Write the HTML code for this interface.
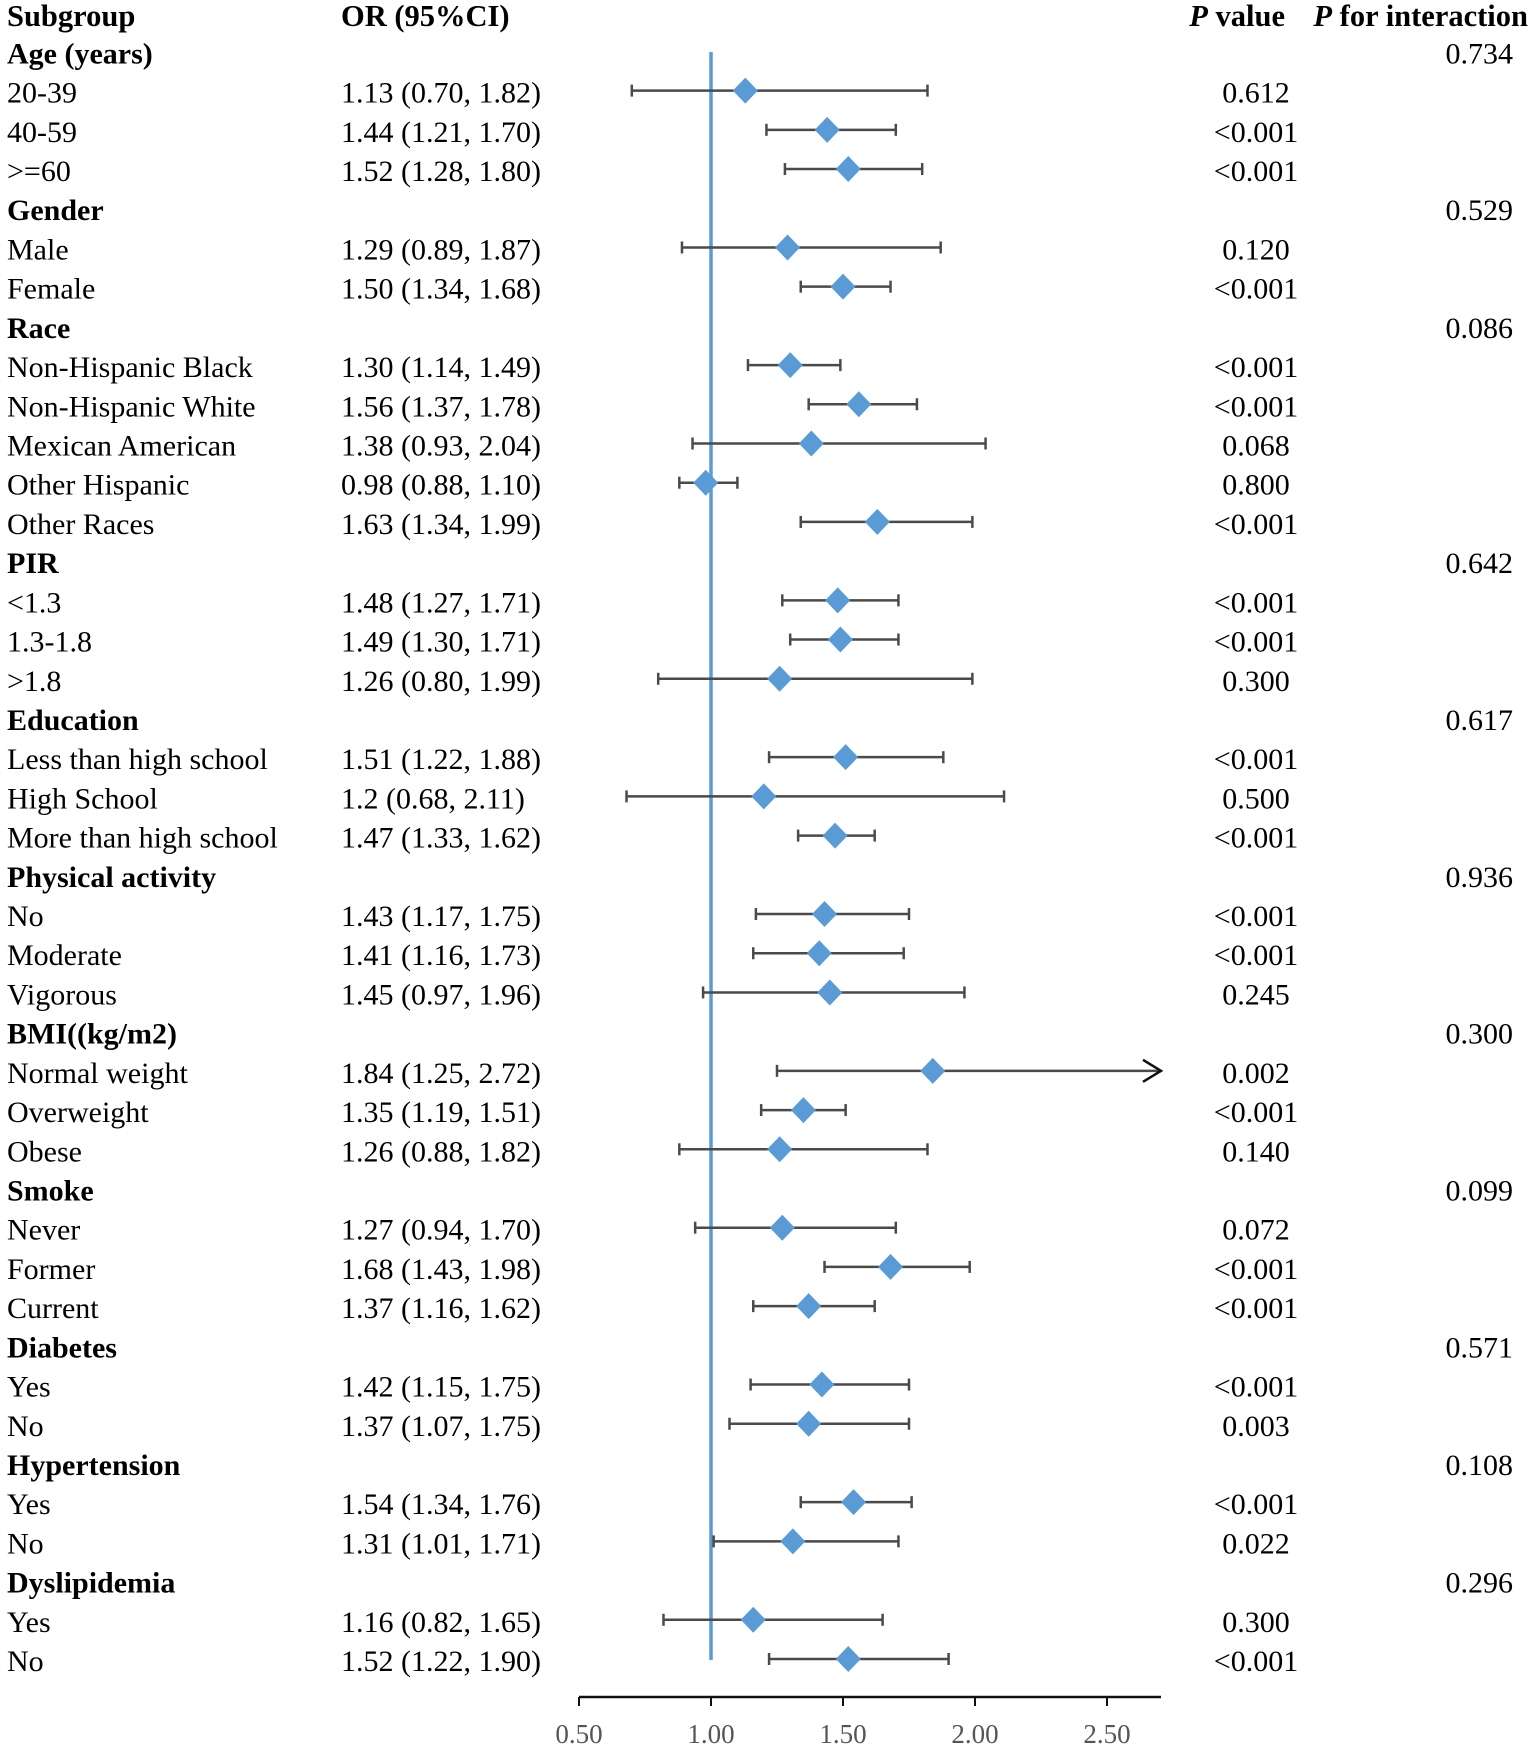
<!DOCTYPE html>
<html><head><meta charset="utf-8"><style>
html,body{margin:0;padding:0;background:#fff;}
svg{display:block;font-family:"Liberation Serif",serif;}
</style></head><body>
<svg id="chart" width="1535" height="1746" viewBox="0 0 1535 1746" xmlns="http://www.w3.org/2000/svg">
<g font-weight="bold" font-size="30.5">
<text x="7" y="26">Subgroup</text>
<text x="341" y="26">OR (95%CI)</text>
<text x="1285" y="26" text-anchor="end"><tspan font-style="italic">P</tspan> value</text>
<text x="1528" y="26" text-anchor="end"><tspan font-style="italic">P</tspan>  for interaction</text>
</g>
<g id="rows"></g>
<g id="marks"></g>
<g id="axis"></g>
</svg>
<script>
const labels = ["Age (years)","20-39","40-59",">=60","Gender","Male","Female","Race","Non-Hispanic Black","Non-Hispanic White","Mexican American","Other Hispanic","Other Races","PIR","<1.3","1.3-1.8",">1.8","Education","Less than high school","High School","More than high school","Physical activity","No","Moderate","Vigorous","BMI((kg/m2)","Normal weight","Overweight","Obese","Smoke","Never","Former","Current","Diabetes","Yes","No","Hypertension","Yes","No","Dyslipidemia","Yes","No"];
const isHeader = [1,0,0,0,1,0,0,1,0,0,0,0,0,1,0,0,0,1,0,0,0,1,0,0,0,1,0,0,0,1,0,0,0,1,0,0,1,0,0,1,0,0];
const orVals = [null,1.13,1.44,1.52,null,1.29,1.50,null,1.30,1.56,1.38,0.98,1.63,null,1.48,1.49,1.26,null,1.51,1.2,1.47,null,1.43,1.41,1.45,null,1.84,1.35,1.26,null,1.27,1.68,1.37,null,1.42,1.37,null,1.54,1.31,null,1.16,1.52];
const lowVals = [null,0.70,1.21,1.28,null,0.89,1.34,null,1.14,1.37,0.93,0.88,1.34,null,1.27,1.30,0.80,null,1.22,0.68,1.33,null,1.17,1.16,0.97,null,1.25,1.19,0.88,null,0.94,1.43,1.16,null,1.15,1.07,null,1.34,1.01,null,0.82,1.22];
const highVals = [null,1.82,1.70,1.80,null,1.87,1.68,null,1.49,1.78,2.04,1.10,1.99,null,1.71,1.71,1.99,null,1.88,2.11,1.62,null,1.75,1.73,1.96,null,2.72,1.51,1.82,null,1.70,1.98,1.62,null,1.75,1.75,null,1.76,1.71,null,1.65,1.90];
const orText = ["","1.13 (0.70, 1.82)","1.44 (1.21, 1.70)","1.52 (1.28, 1.80)","","1.29 (0.89, 1.87)","1.50 (1.34, 1.68)","","1.30 (1.14, 1.49)","1.56 (1.37, 1.78)","1.38 (0.93, 2.04)","0.98 (0.88, 1.10)","1.63 (1.34, 1.99)","","1.48 (1.27, 1.71)","1.49 (1.30, 1.71)","1.26 (0.80, 1.99)","","1.51 (1.22, 1.88)","1.2 (0.68, 2.11)","1.47 (1.33, 1.62)","","1.43 (1.17, 1.75)","1.41 (1.16, 1.73)","1.45 (0.97, 1.96)","","1.84 (1.25, 2.72)","1.35 (1.19, 1.51)","1.26 (0.88, 1.82)","","1.27 (0.94, 1.70)","1.68 (1.43, 1.98)","1.37 (1.16, 1.62)","","1.42 (1.15, 1.75)","1.37 (1.07, 1.75)","","1.54 (1.34, 1.76)","1.31 (1.01, 1.71)","","1.16 (0.82, 1.65)","1.52 (1.22, 1.90)"];
const pVals = ["","0.612","<0.001","<0.001","","0.120","<0.001","","<0.001","<0.001","0.068","0.800","<0.001","","<0.001","<0.001","0.300","","<0.001","0.500","<0.001","","<0.001","<0.001","0.245","","0.002","<0.001","0.140","","0.072","<0.001","<0.001","","<0.001","0.003","","<0.001","0.022","","0.300","<0.001"];
const pInter = ["0.734","","","","0.529","","","0.086","","","","","","0.642","","","","0.617","","","","0.936","","","","0.300","","","","0.099","","","","0.571","","","0.108","","","0.296","",""];
const ticks = [0.5,1.0,1.5,2.0,2.5];
const tickLabels = ["0.50","1.00","1.50","2.00","2.50"];
const refValue = 1.0;

const NS="http://www.w3.org/2000/svg";
const X0=579, UNIT=264, XMAX=1161;
function xs(v){return X0+(v-0.5)*UNIT;}
function ys(i){return 53.4+i*39.21;}
function mk(tag,attrs,parent){const e=document.createElementNS(NS,tag);for(const k in attrs)e.setAttribute(k,attrs[k]);parent.appendChild(e);return e;}
const rows=document.getElementById('rows'), marks=document.getElementById('marks'), axis=document.getElementById('axis');
const FS=30;

labels.forEach((lab,i)=>{
  const y=ys(i)+10;
  const t=mk('text',{x:7,y:y,'font-size':FS,'font-weight':isHeader[i]?'bold':'normal'},rows);
  
  
  t.textContent=lab;
  if(orText[i]){const o=mk('text',{x:341,y:y,'font-size':FS},rows);
    
    
    o.textContent=orText[i];}
  if(pVals[i]){const p=mk('text',{x:1256,y:y,'font-size':FS,'text-anchor':'middle'},rows);
    
    
    p.textContent=pVals[i];}
  if(pInter[i]){const p=mk('text',{x:1513,y:y,'font-size':FS,'text-anchor':'end'},rows);
    
    
    p.textContent=pInter[i];}
});

const ref=mk('line',{x1:xs(refValue),x2:xs(refValue),y1:52,y2:1660,stroke:'#5b9bd5','stroke-width':3.5},marks);



orVals.forEach((v,i)=>{
  if(v===null)return;
  const y=ys(i)-2;
  const lo=xs(lowVals[i]); const hiRaw=xs(highVals[i]); const clipped=hiRaw>XMAX; const hi=clipped?XMAX:hiRaw;
  const ln=mk('line',{x1:lo,x2:hi,y1:y,y2:y,stroke:'#4a4a4a','stroke-width':2.5},marks);
  
  
  const c1=mk('line',{x1:lo,x2:lo,y1:y-6,y2:y+6,stroke:'#4a4a4a','stroke-width':2.5},marks);
  
  
  if(clipped){
    const a=mk('polyline',{points:`${hi-18},${y-11} ${hi},${y} ${hi-18},${y+11}`,fill:'none',stroke:'#111','stroke-width':2.5},marks);
    
    
  } else {
    const c2=mk('line',{x1:hi,x2:hi,y1:y-6,y2:y+6,stroke:'#4a4a4a','stroke-width':2.5},marks);
    
    
  }
  const cx=xs(v);
  const d=mk('polygon',{points:`${cx},${y-13} ${cx+12.5},${y} ${cx},${y+13} ${cx-12.5},${y}`,fill:'#5b9bd5'},marks);
  
  
});

const AY=1697;
const al=mk('line',{x1:X0,x2:XMAX,y1:AY,y2:AY,stroke:'#111','stroke-width':2.5},axis);


ticks.forEach((t,i)=>{
  const x=xs(t);
  const tk=mk('line',{x1:x,x2:x,y1:AY,y2:AY+9,stroke:'#111','stroke-width':2},axis);
  
  
  const tl=mk('text',{x:x,y:AY+46,'font-size':27,'text-anchor':'middle',fill:'#555'},axis);
  
  
  tl.textContent=tickLabels[i];
});
</script>
</body></html>
